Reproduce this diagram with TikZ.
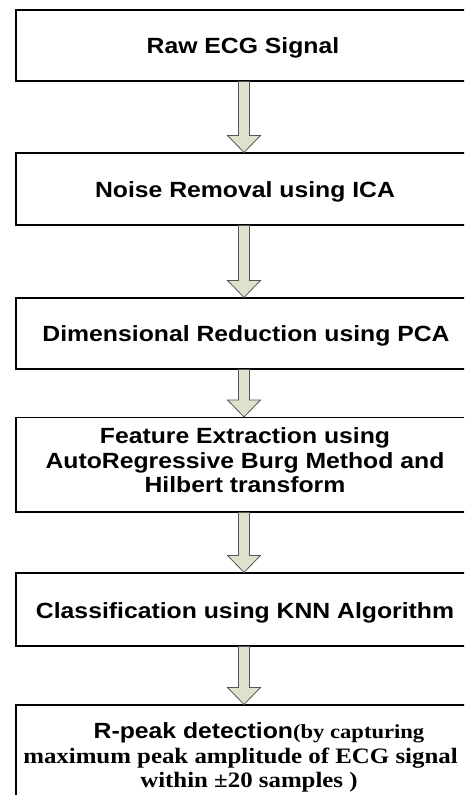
\documentclass[tikz,border=0pt]{standalone}
\usepackage{fontspec}
\setmainfont{Liberation Sans}[FakeStretch=1.125]
\newfontfamily\serifbold{Liberation Serif}[FakeStretch=1.13]
\usetikzlibrary{calc}

\definecolor{arrowfill}{RGB}{221,226,205}
\definecolor{arrowline}{RGB}{85,85,85}

\tikzset{
  box/.style={draw=black, line width=1.1pt, fill=white, rectangle,
              minimum width=456pt, inner sep=0pt},
  label/.style={anchor=base, inner sep=0pt,
                font=\fontsize{22}{25}\selectfont\bfseries},
  slabel/.style={anchor=base, inner sep=0pt,
                 font=\fontsize{22}{25}\selectfont\serifbold\bfseries},
  blockarrow/.style={draw=arrowline, fill=arrowfill, line width=0.8pt,
                     line join=miter}
}

% hollow block arrow from the bottom of one box to the top of the next
\newcommand\blockarrow[2]{%
  \path[blockarrow] let \p1=(#1.south), \p2=(#2.north) in
    (\x1-5.5pt,\y1) -- (\x1+5.5pt,\y1) -- (\x1+5.5pt,\y2+17pt)
    -- (\x1+16.5pt,\y2+17pt) -- (\x1,\y2) -- (\x1-16.5pt,\y2+17pt)
    -- (\x1-5.5pt,\y2+17pt) -- cycle;}

\begin{document}
\begin{tikzpicture}[x=1pt, y=-1pt]
  \useasboundingbox (0,0) rectangle (464,795);
  \clip (0,0) rectangle (464,795);

  % process boxes
  \node[box, minimum height=71pt]   (b1) at (244,45.5)   {};
  \node[box, minimum height=72pt]   (b2) at (244,189)    {};
  \node[box, minimum height=71pt]   (b3) at (244,333.5)  {};
  \node[box, minimum height=94.5pt] (b4) at (244,464.75) {};
  \node[box, minimum height=73pt]   (b5) at (244,609.5)  {};
  \node[box, minimum height=95pt]   (b6) at (244,752.5)  {};

  % box texts
  \node[label] (t1)  at (243,53.5)  {Raw ECG Signal};
  \node[label] (t2)  at (245,197) {Noise Removal using ICA};
  \node[label] (t3)  at (246,341) {Dimensional Reduction using PCA};
  \node[label] (t4a) at (245,443.5) {Feature Extraction using};
  \node[label] (t4b) at (245,468) {AutoRegressive Burg Method and};
  \node[label] (t4c) at (245,492.5) {Hilbert transform};
  \node[label] (t5)  at (245,618.5) {Classification using KNN Algorithm};
  \node[label] (t6a) at (259,738) {R-peak detection{\serifbold\fontsize{20}{25}\selectfont(by capturing}};
  \node[slabel] (t6b) at (240.5,763) {maximum peak amplitude of ECG signal};
  \node[slabel] (t6c) at (249,787) {within ±20 samples )};

  % connectors
  \blockarrow{b1}{b2}
  \blockarrow{b2}{b3}
  \blockarrow{b3}{b4}
  \blockarrow{b4}{b5}
  \blockarrow{b5}{b6}
\end{tikzpicture}
\end{document}
